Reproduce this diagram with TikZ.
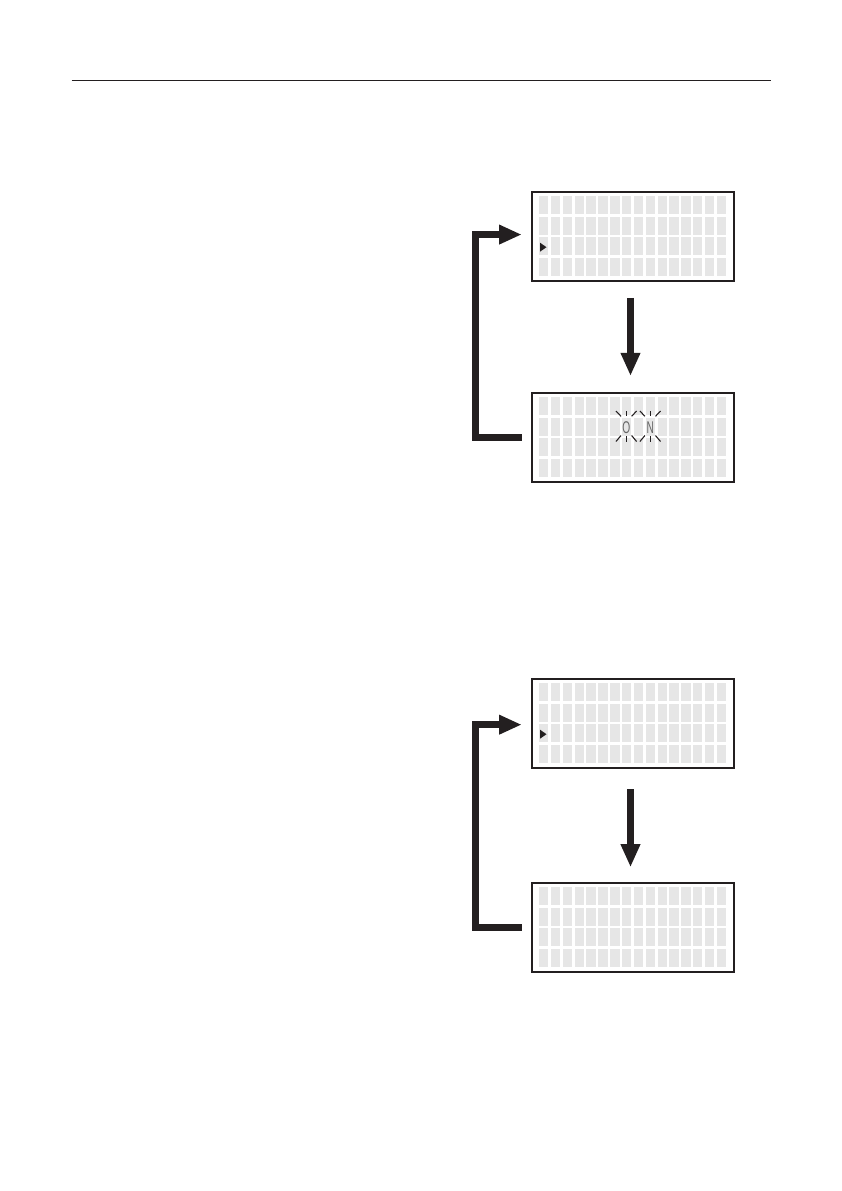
\documentclass[tikz,border=0pt]{standalone}
\usepackage{fontspec}
\setmainfont{Liberation Sans}
\usetikzlibrary{arrows.meta}
\definecolor{ink}{HTML}{231F20}
\definecolor{cellgray}{HTML}{E6E6E6}
\definecolor{ongray}{HTML}{666666}
\tikzset{
 screen/.style={draw=ink, line width=1.6pt, minimum width=143pt, minimum height=63.07pt, inner sep=0pt, outer sep=0pt},
 cell/.style={fill=cellgray},
 cursor/.style={fill=ink},
 downarrow/.style={draw=ink, line width=5.3pt, -{Triangle[length=16.3pt,width=12.9pt]}},
 looparrow/.style={draw=ink, line width=4.7pt, line join=miter, -{Triangle[length=16pt,width=12.9pt]}},
 ray/.style={draw=ink, line width=0.75pt},
 ontext/.style={text=ongray, font=\fontsize{12}{13}\selectfont, inner sep=0pt},
 toprule/.style={draw=ink, line width=0.75pt}
}
\newcommand\lcdscreen[3]{%
 \foreach \c in {0,...,15}{\foreach \r in {0,...,3}{
   \fill[cell] ({539+\c*11.85},{#2-45.75+5.5+\r*20.5}) rectangle ++(9.4,18);}}
 \node[screen] (#1) at (632.75,#2) {};
 \ifnum#3=1 \fill[cursor] (540,{#2-45.75+52.2}) -- ++(0,9) -- ++(6.5,-4.5) -- cycle;\fi
}
\begin{document}
\begin{tikzpicture}[x=0.70711pt,y=-0.70711pt]
\useasboundingbox (0,0) rectangle (842,1191);
\draw[toprule] (71.7,80.3) -- (771,80.3);
% first sequence
\lcdscreen{s1}{236.25}{1}
\lcdscreen{s2}{437.25}{0}
\node[ontext] (on-o) at (626.3,427.7) {\scalebox{0.6}[1]{O}};
\node[ontext] (on-n) at (650.2,427.7) {\scalebox{0.6}[1]{N}};
\foreach \L in {on-o,on-n}{
  \draw[ray] ([shift={(-10.3,-16.7)}]\L.center) -- ([shift={(-5.3,-11.4)}]\L.center);
  \draw[ray] ([shift={(0,-16.7)}]\L.center) -- ([shift={(0,-11.4)}]\L.center);
  \draw[ray] ([shift={(10.3,-16.7)}]\L.center) -- ([shift={(5.3,-11.4)}]\L.center);
  \draw[ray] ([shift={(-10.3,13.8)}]\L.center) -- ([shift={(-5.3,7.8)}]\L.center);
  \draw[ray] ([shift={(0,13.8)}]\L.center) -- ([shift={(0,7.8)}]\L.center);
  \draw[ray] ([shift={(10.3,13.8)}]\L.center) -- ([shift={(5.3,7.8)}]\L.center);
}
\draw[downarrow, shorten <=12.1pt, shorten >=11.8pt] ([xshift=-1.6pt]s1.south) -- ([xshift=-1.6pt]s2.north);
\draw[looparrow] ([xshift=-7pt]s2.west) -- ++(-46,0) |- ([xshift=-7pt,yshift=1.2pt]s1.west);
% second sequence
\lcdscreen{s3}{723.25}{1}
\lcdscreen{s4}{927.25}{0}
\draw[downarrow, shorten <=15.2pt, shorten >=10.9pt] ([xshift=-1.6pt]s3.south) -- ([xshift=-1.6pt]s4.north);
\draw[looparrow] ([xshift=-7pt]s4.west) -- ++(-46,0) |- ([xshift=-7pt,yshift=-1pt]s3.west);
\end{tikzpicture}
\end{document}
